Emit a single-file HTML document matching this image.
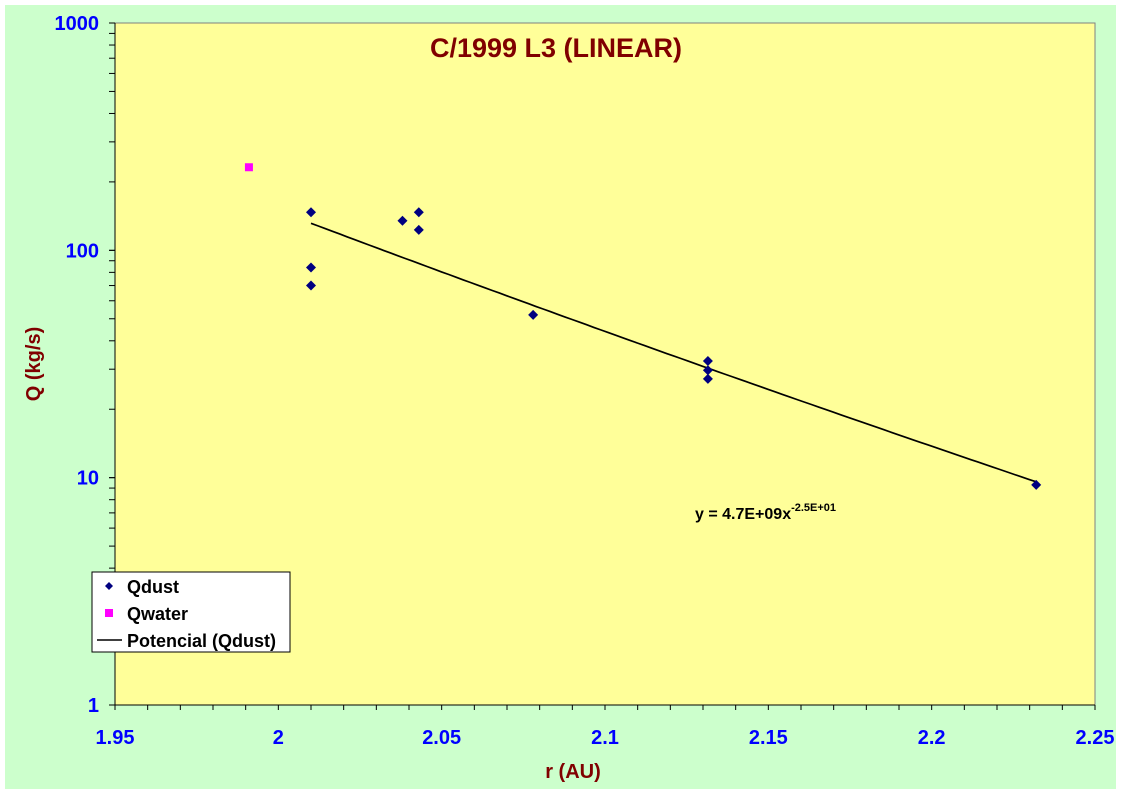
<!DOCTYPE html>
<html><head><meta charset="utf-8"><style>
body{margin:0;background:#fff;font-family:"Liberation Sans",Arial,sans-serif}
svg text{font-family:"Liberation Sans",Arial,sans-serif;font-weight:bold}
</style></head><body>
<svg width="1121" height="793">
<rect x="5" y="5" width="1111" height="784" fill="#CCFFCC"/>
<rect x="115" y="23" width="980" height="682" fill="#FFFF99" stroke="#808080" stroke-width="1"/>
<g id="axes"></g>
<g id="marks"></g>
<text x="556" y="57" text-anchor="middle" style="font-size:27px" fill="#800000">C/1999 L3 (LINEAR)</text>
<text x="573" y="778" text-anchor="middle" style="font-size:20px" fill="#800000">r (AU)</text>
<text transform="translate(40,364) rotate(-90)" text-anchor="middle" style="font-size:20px" fill="#800000">Q (kg/s)</text>
<text x="695" y="519" style="font-size:16px" fill="#000">y = 4.7E+09x<tspan dy="-8" style="font-size:11px">-2.5E+01</tspan></text>
<g>
<rect x="92" y="572" width="198" height="80" fill="#fff" stroke="#000"/>
<path d="M109 582 l4 4 -4 4 -4 -4z" fill="#000080"/>
<text x="127" y="593" style="font-size:18px">Qdust</text>
<rect x="105" y="609" width="8" height="8" fill="#FF00FF"/>
<text x="127" y="620" style="font-size:18px">Qwater</text>
<line x1="97" y1="640" x2="122" y2="640" stroke="#000" stroke-width="1.5"/>
<text x="127" y="647" style="font-size:18px">Potencial (Qdust)</text>
</g>
</svg>
<script>
const dustR=[2.010,2.010,2.010,2.038,2.043,2.043,2.078,2.1315,2.1315,2.1315,2.232];
const dustQ=[147,84,70,135,147,123,52,32.6,29.7,27.2,9.3];
const waterR=[1.991];
const waterQ=[232];
const trendA=5.0e9, trendB=-25;
const xTicks=[1.95,2,2.05,2.1,2.15,2.2,2.25];
const xTickLabels=["1.95","2","2.05","2.1","2.15","2.2","2.25"];
const yTicks=[1,10,100,1000];
const yTickLabels=["1","10","100","1000"];
const NS="http://www.w3.org/2000/svg";
const L=115,R=1095,T=23,B=705;
function sx(v){return L+(v-1.95)/0.3*(R-L);}
function sy(v){return B-(Math.log10(v)/3)*(B-T);}
function mk(tag,attrs,parent){const e=document.createElementNS(NS,tag);for(const k in attrs)e.setAttribute(k,attrs[k]);parent.appendChild(e);return e;}
const ax=document.getElementById('axes'),mg=document.getElementById('marks');
let a=mk('line',{x1:L,y1:T,x2:L,y2:B,stroke:'#000'},ax);


a=mk('line',{x1:L,y1:B,x2:R,y2:B,stroke:'#000'},ax);


for(let i=0;i<=30;i++){const x=sx(1.95+i*0.01);mk('line',{x1:x,y1:B,x2:x,y2:B+5,stroke:'#000'},ax);}
xTicks.forEach((v,i)=>{const t=mk('text',{x:sx(v),y:B+39,'text-anchor':'middle',style:'font-size:20px',fill:'#0000FF'},ax);t.textContent=xTickLabels[i];

});
for(let d=0;d<3;d++)for(let m=1;m<=10;m++){const y=sy(m*Math.pow(10,d));mk('line',{x1:L-6,y1:y,x2:L,y2:y,stroke:'#000'},ax);}
yTicks.forEach((v,i)=>{const t=mk('text',{x:L-16,y:sy(v)+7,'text-anchor':'end',style:'font-size:20px',fill:'#0000FF'},ax);t.textContent=yTickLabels[i];

});
let pts=[];const r0=Math.min(...dustR),r1=Math.max(...dustR);
for(let i=0;i<=100;i++){const r=r0+(r1-r0)*i/100;pts.push(sx(r).toFixed(1)+','+sy(trendA*Math.pow(r,trendB)).toFixed(1));}
const tl=mk('polyline',{points:pts.join(' '),fill:'none',stroke:'#000','stroke-width':1.7},mg);


dustR.forEach((r,i)=>{const x=sx(r),y=sy(dustQ[i]);const p=mk('path',{d:`M${x} ${y-5}l5 5-5 5-5-5z`,fill:'#000080'},mg);

});
waterR.forEach((r,i)=>{const p=mk('rect',{x:sx(r)-4,y:sy(waterQ[i])-4,width:8,height:8,fill:'#FF00FF'},mg);

});
</script>
</body></html>
